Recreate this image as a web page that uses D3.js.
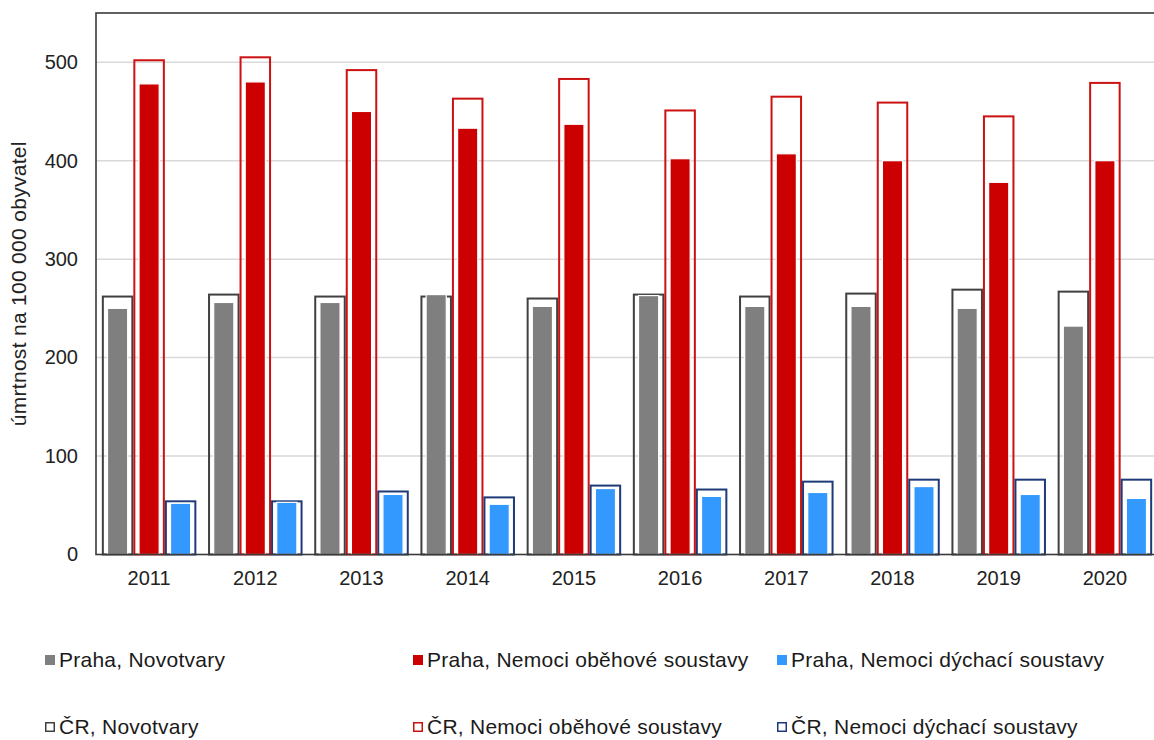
<!DOCTYPE html>
<html>
<head>
<meta charset="utf-8">
<script src="https://cdn.jsdelivr.net/npm/d3@7"></script>
<style>
  html, body { margin: 0; padding: 0; background: #fff; }
  svg { display: block; font-family: "Liberation Sans", Arial, sans-serif; }
</style>
</head>
<body>
<svg id="chart" width="1154" height="740"></svg>
<script>
const years = ['2011','2012','2013','2014','2015','2016','2017','2018','2019','2020'];
const prahaNovotvary = [250, 256, 256, 264, 252, 263, 252, 252, 250, 232];
const crNovotvary    = [262, 264, 262, 262, 260, 264, 262, 265, 269, 267];
const prahaObehove   = [478, 480, 450, 433, 437, 402, 407, 400, 378, 400];
const crObehove      = [502, 505, 492, 463, 483, 451, 465, 459, 445, 479];
const prahaDychaci   = [52, 53, 61, 51, 67, 59, 63, 69, 61, 57];
const crDychaci      = [54, 54, 64, 58, 70, 66, 74, 76, 76, 76];
const yTicks = [0, 100, 200, 300, 400, 500];
const causes = ['Novotvary', 'Nemoci oběhové soustavy', 'Nemoci dýchací soustavy'];
const yTitle = 'úmrtnost na 100 000 obyvatel';
const legendPraha = ['Praha, Novotvary', 'Praha, Nemoci oběhové soustavy', 'Praha, Nemoci dýchací soustavy'];
const legendCR = ['ČR, Novotvary', 'ČR, Nemoci oběhové soustavy', 'ČR, Nemoci dýchací soustavy'];

(function () {
const fillColors = ['#7f7f7f', '#cc0000', '#3399ff'];
const strokeColors = ['#404040', '#cc1111', '#1f3a78'];

const praha = [prahaNovotvary, prahaObehove, prahaDychaci];
const cr = [crNovotvary, crObehove, crDychaci];

const svg = d3.select('#chart');
const pLeft = 96, pRight = 1158, pTop = 13, pBottom = 554.5;

const x = d3.scaleBand().domain(years).range([pLeft, pRight]).paddingInner(0.11).paddingOuter(0.055);
const x1 = d3.scaleBand().domain(causes).range([0, x.bandwidth()]);
const y = d3.scaleLinear().domain([0, 550]).range([pBottom, pTop]);

// gridlines
svg.append('g').selectAll('line').data(yTicks.filter(d => d > 0)).join('line')
  .attr('x1', pLeft).attr('x2', pRight)
  .attr('y1', d => y(d)).attr('y2', d => y(d))
  .attr('stroke', '#d9d9d9').attr('stroke-width', 1.5);

const rows = [];
years.forEach((yr, i) => {
  causes.forEach((c, j) => {
    rows.push({ yr, c, j, praha: praha[j][i], cr: cr[j][i] });
  });
});

const prahaW = x1.bandwidth() * 0.64;

// ČR outline bars
svg.append('g').selectAll('rect').data(rows).join('rect')
  .attr('x', d => x(d.yr) + x1(d.c) + 1)
  .attr('y', d => y(d.cr))
  .attr('width', x1.bandwidth() - 2)
  .attr('height', d => pBottom - y(d.cr))
  .attr('fill', 'none')
  .attr('stroke', d => strokeColors[d.j])
  .attr('stroke-width', 2);

// Praha filled bars
svg.append('g').selectAll('rect').data(rows).join('rect')
  .attr('x', d => x(d.yr) + x1(d.c) + (x1.bandwidth() - prahaW) / 2)
  .attr('y', d => y(d.praha))
  .attr('width', prahaW)
  .attr('height', d => pBottom - y(d.praha))
  .attr('fill', d => fillColors[d.j])
  .attr('stroke', '#fff')
  .attr('stroke-width', 1.2);

// frame
svg.append('rect')
  .attr('x', pLeft).attr('y', pTop).attr('width', pRight - pLeft).attr('height', pBottom - pTop)
  .attr('fill', 'none').attr('stroke', '#3a3a3a').attr('stroke-width', 1.6);

// y axis labels
const yAxis = d3.axisLeft(y).tickValues(yTicks).tickSize(0).tickPadding(18);
const ga = svg.append('g').attr('transform', `translate(${pLeft},0)`).call(yAxis);
ga.select('.domain').remove();
ga.selectAll('text').attr('font-size', 20).attr('fill', '#222').attr('font-family', '"Liberation Sans", Arial, sans-serif');

// x axis labels
const xAxis = d3.axisBottom(x).tickSize(0).tickPadding(16);
const gx = svg.append('g').attr('transform', `translate(0,${pBottom})`).call(xAxis);
gx.select('.domain').remove();
gx.selectAll('text').attr('font-size', 20).attr('fill', '#222').attr('font-family', '"Liberation Sans", Arial, sans-serif');

// y title
svg.append('text')
  .attr('transform', `translate(26,${(pTop + pBottom) / 2}) rotate(-90)`)
  .attr('text-anchor', 'middle')
  .attr('font-size', 21).attr('letter-spacing', 0.3).attr('fill', '#222')
  .text(yTitle);

// legend
const colX = [45, 413, 777];
const rowY = [660, 727];
const lg = svg.append('g');
legendPraha.forEach((t, j) => {
  lg.append('rect').attr('x', colX[j]).attr('y', rowY[0] - 5).attr('width', 10).attr('height', 10)
    .attr('fill', fillColors[j]);
  lg.append('text').attr('x', colX[j] + 14).attr('y', rowY[0] + 7).attr('font-size', 21)
    .attr('letter-spacing', 0.25).attr('fill', '#1a1a1a').text(t);
});
legendCR.forEach((t, j) => {
  lg.append('rect').attr('x', colX[j] + 0.75).attr('y', rowY[1] - 5 + 0.75).attr('width', 8.5).attr('height', 8.5)
    .attr('fill', '#fff').attr('stroke', strokeColors[j]).attr('stroke-width', 1.5);
  lg.append('text').attr('x', colX[j] + 14).attr('y', rowY[1] + 7).attr('font-size', 21)
    .attr('letter-spacing', 0.25).attr('fill', '#1a1a1a').text(t);
});
})();
</script>
</body>
</html>
